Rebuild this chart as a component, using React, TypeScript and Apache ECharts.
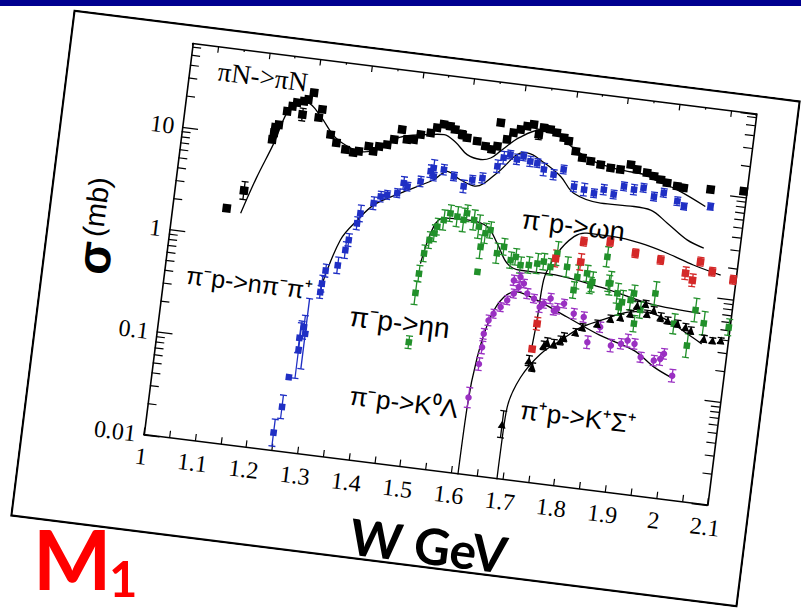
import React, { useEffect, useRef } from "react";
import * as echarts from "echarts";

// ---------------- data (W in GeV, sigma in mb, relative error) ----------------
const xTickLabels = ["1", "1.1", "1.2", "1.3", "1.4", "1.5", "1.6", "1.7", "1.8", "1.9", "2", "2.1"];
const yTickLabels: Record<string, string> = { "-2": "0.01", "-1": "0.1", "0": "1", "1": "10" };
const Y_MIN = 0.01;
const Y_MAX = 65;

// pi N -> pi N (black squares)
const piNData = [
  [1.105, 1.87, 0], [1.134, 2.9, 0.22], [1.176, 9.7, 0], [1.178, 11.3, 0], [1.179, 12.8, 0],
  [1.185, 13.7, 0], [1.198, 18.9, 0], [1.207, 21.4, 0], [1.215, 23.5, 0], [1.228, 24.7, 0],
  [1.228, 18.3, 0.15], [1.236, 26.0, 0], [1.245, 30.7, 0], [1.26, 17.9, 0], [1.265, 21.7, 0],
  [1.287, 12.7, 0], [1.3, 10.8, 0], [1.319, 9.5, 0], [1.335, 9.1, 0], [1.345, 9.5, 0],
  [1.363, 10.9, 0], [1.373, 9.9, 0], [1.383, 11.2, 0], [1.398, 11.9, 0], [1.41, 13.6, 0],
  [1.423, 17.3, 0], [1.435, 14.1, 0], [1.448, 14.3, 0], [1.46, 16.3, 0], [1.479, 17.4, 0],
  [1.49, 19.9, 0], [1.502, 21.8, 0], [1.515, 21.3, 0], [1.525, 20.1, 0], [1.54, 18.3, 0.1],
  [1.55, 17.3, 0], [1.57, 16.5, 0], [1.587, 15.1, 0], [1.6, 14.3, 0], [1.61, 15.6, 0],
  [1.611, 26.5, 0], [1.627, 18.6, 0], [1.638, 22.0, 0], [1.651, 24.1, 0], [1.663, 26.4, 0],
  [1.675, 27.9, 0], [1.687, 22.7, 0.12], [1.695, 26.7, 0], [1.708, 26.2, 0], [1.721, 24.8, 0],
  [1.736, 22.6, 0], [1.746, 21.3, 0], [1.762, 17.3, 0], [1.776, 15.3, 0], [1.793, 14.5, 0],
  [1.813, 13.8, 0], [1.833, 13.2, 0], [1.852, 13.1, 0], [1.871, 15.0, 0], [1.884, 13.7, 0],
  [1.904, 13.1, 0], [1.918, 12.4, 0], [1.932, 11.7, 0], [1.945, 11.1, 0], [1.965, 10.6, 0],
  [1.978, 10.4, 0], [2.03, 10.8, 0], [2.094, 11.4, 0],
];
const piNCurve = [
  [1.133, 1.74], [1.155, 4.0], [1.18, 9.0], [1.198, 18.3], [1.215, 22.6], [1.235, 24.1],
  [1.263, 18.6], [1.294, 12.4], [1.322, 10.3], [1.35, 9.5], [1.38, 10.5], [1.42, 14.5],
  [1.47, 16.5], [1.505, 17.4], [1.53, 15.0], [1.554, 11.9], [1.581, 11.1], [1.6, 11.8],
  [1.617, 14.1], [1.65, 20.0], [1.69, 25.0], [1.72, 24.0], [1.76, 18.0], [1.8, 14.5],
  [1.85, 13.0], [1.9, 12.5], [1.92, 11.5], [1.97, 9.6], [2.024, 7.3],
];

// pi- p -> n pi- pi+ (blue squares)
const nPiPiData = [
  [1.249, 0.0149, 0.35], [1.259, 0.027, 0.3], [1.265, 0.053, 0], [1.277, 0.1, 0.9], [1.276, 0.13, 0.4],
  [1.286, 0.145, 1.2], [1.282, 0.167, 0.3], [1.305, 0.38, 0.15], [1.306, 0.46, 0.2], [1.31, 0.62, 0.15],
  [1.332, 0.72, 0.2], [1.343, 1.03, 0.2], [1.347, 1.3, 0.15], [1.359, 1.92, 0.15], [1.363, 2.42, 0.2],
  [1.386, 3.14, 0.15], [1.398, 3.71, 0.12], [1.41, 3.92, 0.1], [1.429, 4.19, 0.1], [1.439, 5.33, 0.15],
  [1.447, 4.99, 0.1], [1.471, 5.78, 0.12], [1.488, 7.43, 0.15], [1.493, 8.08, 0.2], [1.495, 6.71, 0.1],
  [1.513, 8.0, 0.12], [1.534, 7.09, 0.1], [1.555, 5.84, 0.15], [1.57, 6.93, 0.1], [1.589, 7.4, 0.12],
  [1.615, 10.0, 0.15], [1.625, 12.3, 0.15], [1.637, 13.4, 0.1], [1.651, 12.3, 0.12], [1.663, 13.4, 0.1],
  [1.677, 12.2, 0.12], [1.691, 12.0, 0.1], [1.705, 10.6, 0.15], [1.725, 9.7, 0.12], [1.743, 11.2, 0.1],
  [1.767, 7.9, 0.12], [1.787, 7.6, 0.15], [1.807, 7.2, 0.1], [1.825, 8.0, 0.12], [1.845, 7.4, 0.1],
  [1.863, 9.1, 0.1], [1.883, 8.7, 0.12], [1.901, 9.3, 0.1], [1.923, 7.9, 0.1], [1.941, 8.8, 0.1],
  [1.969, 7.6, 0.1], [1.983, 6.9, 0.08], [2.034, 7.4, 0.08],
];
const nPiPiCurve = [
  [1.305, 0.42], [1.331, 1.27], [1.36, 2.1], [1.387, 3.03], [1.435, 4.23], [1.496, 6.23],
  [1.52, 7.78], [1.547, 6.71], [1.576, 6.06], [1.616, 8.63], [1.65, 13.7], [1.669, 14.6],
  [1.704, 12.3], [1.739, 9.5], [1.768, 6.8], [1.822, 5.9], [1.887, 6.0], [1.92, 5.8],
  [1.955, 4.55], [1.997, 3.32], [2.031, 2.9],
];

// pi- p -> eta n (green squares)
const etaData = [
  [1.487, 0.16, 0.15], [1.488, 0.486, 0.3], [1.49, 0.751, 0.2], [1.495, 1.19, 0.2], [1.502, 1.62, 0.2],
  [1.51, 1.91, 0.2], [1.514, 2.23, 0.2], [1.525, 2.63, 0.25], [1.536, 3.11, 0.2], [1.55, 2.94, 0.25],
  [1.563, 2.78, 0.3], [1.568, 3.26, 0.2], [1.583, 2.86, 0.25], [1.594, 2.5, 0.3], [1.602, 1.61, 0.3],
  [1.608, 2.2, 0.25], [1.602, 0.916, 0], [1.617, 2.4, 0.2], [1.635, 1.46, 0.25], [1.647, 1.72, 0.2],
  [1.663, 1.3, 0.2], [1.672, 1.42, 0.2], [1.683, 1.2, 0.2], [1.699, 1.23, 0.2], [1.715, 1.3, 0.25],
  [1.727, 1.38, 0.2], [1.741, 1.25, 0.2], [1.751, 1.72, 0.3], [1.773, 1.31, 0.25], [1.791, 0.8, 0.2],
  [1.795, 1.08, 0.3], [1.813, 1.2, 0.2], [1.822, 0.93, 0.2], [1.825, 1.01, 0.25], [1.848, 1.83, 0.25],
  [1.857, 1.02, 0.2], [1.86, 1.03, 0.3], [1.876, 0.84, 0.25], [1.882, 0.62, 0.2], [1.887, 0.7, 0.3],
  [1.903, 0.75, 0.25], [1.908, 0.88, 0.2], [1.915, 0.45, 0.2], [1.924, 0.62, 0.2], [1.949, 0.93, 0.3],
  [1.992, 0.5, 0.25], [2.022, 0.32, 0.3], [2.03, 0.72, 0.3], [2.049, 0.55, 0.3], [2.098, 0.54, 0.2],
];
const etaCurve = [
  [1.4905, 0.94], [1.507, 2.21], [1.525, 2.74], [1.57, 2.81], [1.61, 2.56], [1.633, 1.82],
  [1.657, 1.2], [1.684, 1.07], [1.736, 1.07], [1.842, 0.92], [1.942, 0.73], [2.04, 0.68],
];

// pi- p -> omega n (red squares)
const omegaData = [
  [1.7255, 0.194, 0], [1.729, 0.344, 0.15], [1.749, 1.53, 0.2], [1.798, 1.52, 0.2], [1.799, 2.4, 0.1],
  [1.85, 2.58, 0.1], [1.901, 2.14, 0.1], [1.951, 1.98, 0.1], [2.002, 1.58, 0.15], [2.017, 1.38, 0.15],
  [2.028, 2.13, 0.1], [2.053, 1.76, 0.1], [2.095, 1.56, 0.1],
];
const omegaCurve = [
  [1.7245, 0.2], [1.728, 0.37], [1.731, 0.92], [1.751, 1.72], [1.779, 2.61], [1.803, 2.92],
  [1.855, 2.91], [1.908, 2.71], [1.962, 2.34], [2.015, 1.94], [2.07, 1.67],
];

// pi- p -> K0 Lambda (purple circles)
const k0LambdaData = [
  [1.615, 0.0556, 0.25], [1.627, 0.12, 0.15], [1.629, 0.175, 0.15], [1.629, 0.237, 0.12], [1.635, 0.323, 0.12],
  [1.643, 0.38, 0.1], [1.655, 0.449, 0.1], [1.666, 0.531, 0.1], [1.677, 0.627, 0.1], [1.674, 0.84, 0.12],
  [1.685, 0.736, 0.1], [1.686, 0.92, 0.1], [1.694, 0.806, 0.1], [1.703, 0.651, 0.12], [1.717, 0.593, 0.1],
  [1.73, 0.5, 0.12], [1.737, 0.546, 0.1], [1.749, 0.622, 0.12], [1.758, 0.48, 0.1], [1.764, 0.507, 0.12],
  [1.776, 0.577, 0.1], [1.797, 0.475, 0.12], [1.817, 0.453, 0.12], [1.83, 0.262, 0.15], [1.851, 0.38, 0.12],
  [1.876, 0.26, 0.15], [1.895, 0.278, 0.12], [1.907, 0.304, 0.15], [1.921, 0.288, 0.12], [1.936, 0.218, 0.12],
  [1.962, 0.21, 0.12], [1.974, 0.222, 0.15], [1.98, 0.251, 0.12], [2.001, 0.158, 0.15],
];
const k0LambdaCurve = [
  [1.613, 0.005], [1.6146, 0.0443], [1.622, 0.138], [1.638, 0.35], [1.659, 0.566], [1.683, 0.656],
  [1.717, 0.593], [1.785, 0.433], [1.853, 0.316], [1.922, 0.248], [1.965, 0.181], [1.999, 0.152],
];

// pi+ p -> K+ Sigma+ (black triangles)
const kSigmaData = [
  [1.686, 0.0338, 0.35], [1.722, 0.1485, 0.12], [1.73, 0.13, 0.1], [1.747, 0.216, 0.1], [1.753, 0.235, 0.1],
  [1.766, 0.231, 0.1], [1.778, 0.253, 0.1], [1.784, 0.275, 0.1], [1.805, 0.317, 0.08], [1.817, 0.361, 0.08],
  [1.845, 0.406, 0.08], [1.869, 0.471, 0.08], [1.888, 0.5, 0.08], [1.906, 0.556, 0.08], [1.917, 0.68, 0.1],
  [1.933, 0.72, 0.08], [1.938, 0.58, 0.08], [1.95, 0.64, 0.08], [1.965, 0.56, 0.1], [1.979, 0.53, 0.08],
  [1.999, 0.507, 0.08], [2.015, 0.481, 0.08], [2.026, 0.453, 0.08], [2.053, 0.391, 0.08], [2.07, 0.386, 0.06],
  [2.086, 0.395, 0.06],
];
const kSigmaCurve = [
  [1.689, 0.005], [1.6895, 0.025], [1.6915, 0.0495], [1.71, 0.1], [1.743, 0.178], [1.778, 0.253],
  [1.815, 0.36], [1.85, 0.44], [1.901, 0.571], [1.939, 0.6], [1.979, 0.53], [2.02, 0.417], [2.05, 0.347],
];

// ---------------- styling / layout ----------------
const BLUE = "#1f2fc4";
const GREEN = "#21902a";
const RED = "#d42828";
const PURPLE = "#9a30c2";
const SERIF = '"Liberation Serif", "Times New Roman", serif';
const SANS = '"Liberation Sans", Arial, sans-serif';
const BOLD_SANS = 'Lato, "Open Sans", sans-serif';

const FRAME_W = 733;
const FRAME_H = 511;
const FRAME_CX = 405;
const FRAME_CY = 308;
const FRAME_ROT = 7.13;

function errSeries(data: number[][], color: string) {
  return {
    type: "custom",
    xAxisIndex: 0,
    yAxisIndex: 0,
    silent: true,
    z: 3,
    data: data.filter((d) => d[2] > 0),
    renderItem: (_p: any, api: any) => {
      const x = api.value(0);
      const y = api.value(1);
      const e = api.value(2);
      const hi = api.coord([x, y * (1 + e)]);
      const lo = api.coord([x, y / (1 + e)]);
      const c = 3.5;
      const st = { stroke: color, lineWidth: 1.3 };
      return {
        type: "group",
        children: [
          { type: "line", shape: { x1: hi[0], y1: hi[1], x2: lo[0], y2: lo[1] }, style: st },
          { type: "line", shape: { x1: hi[0] - c, y1: hi[1], x2: hi[0] + c, y2: hi[1] }, style: st },
          { type: "line", shape: { x1: lo[0] - c, y1: lo[1], x2: lo[0] + c, y2: lo[1] }, style: st },
        ],
      };
    },
  };
}

function curveSeries(data: number[][]) {
  return {
    type: "line",
    data,
    smooth: 0.35,
    symbol: "none",
    z: 2,
    silent: true,
    lineStyle: { color: "#000", width: 1.3 },
  };
}

function pointSeries(data: number[][], color: string, symbol: string, size: number) {
  return {
    type: "scatter",
    data: data.map((d) => [d[0], d[1]]),
    symbol,
    symbolSize: size,
    z: 4,
    itemStyle: { color, opacity: 1 },
  };
}

const yMinorTicks: number[][] = [];
for (const dec of [0.01, 0.1, 1, 10]) {
  for (let k = 2; k <= 9; k++) {
    const v = dec * k;
    if (v < Y_MAX) yMinorTicks.push([1, v]);
  }
}

function yLabel(v: number) {
  const l = Math.log10(v);
  const r = Math.round(l);
  if (Math.abs(l - r) > 1e-6) return "";
  return yTickLabels[String(r)] ?? "";
}

function xLabel(v: number) {
  return xTickLabels[Math.round((v - 1) * 10)] ?? "";
}

const axisLineStyle = { color: "#000", width: 1.6 };

function buildFrameOption(): any {
  const txt = (x: number, baseline: number, text: string, size: number, family: string) => ({
    type: "text",
    x,
    y: baseline - 0.35 * size,
    z: 10,
    style: { text, font: `${size}px ${family}`, fill: "#000", align: "left", verticalAlign: "middle" },
  });
  return {
    animation: false,
    backgroundColor: "#ffffff",
    grid: { left: 122.4, top: 19, width: 568.2, height: 394 },
    xAxis: [
      {
        type: "value",
        min: 1,
        max: 2.1,
        interval: 0.1,
        position: "bottom",
        axisLine: { onZero: false, lineStyle: axisLineStyle },
        axisTick: { inside: true, length: 7, lineStyle: { color: "#000", width: 1.2 } },
        minorTick: { show: true, splitNumber: 2, length: 7, lineStyle: { color: "#000", width: 1.2 } },
        splitLine: { show: false },
        axisLabel: { margin: 10, color: "#000", fontSize: 24, fontFamily: SERIF, formatter: xLabel },
      },
      {
        type: "value",
        min: 1,
        max: 2.1,
        interval: 0.1,
        position: "top",
        axisLine: { onZero: false, lineStyle: axisLineStyle },
        axisTick: { inside: true, length: 2, lineStyle: { color: "#000", width: 1.2 } },
        minorTick: { show: true, splitNumber: 2, length: 6, lineStyle: { color: "#000", width: 1.2 } },
        splitLine: { show: false },
        axisLabel: { show: false },
      },
    ],
    yAxis: [
      {
        type: "log",
        logBase: 10,
        min: Y_MIN,
        max: Y_MAX,
        position: "left",
        axisLine: { lineStyle: axisLineStyle },
        axisTick: { inside: true, length: 16, lineStyle: { color: "#000", width: 1.3 } },
        minorTick: { show: false },
        splitLine: { show: false },
        axisLabel: { margin: 8, color: "#000", fontSize: 24, fontFamily: SERIF, formatter: yLabel, showMaxLabel: false },
      },
      {
        type: "log",
        logBase: 10,
        min: Y_MIN,
        max: Y_MAX,
        position: "right",
        axisLine: { lineStyle: axisLineStyle },
        axisTick: { inside: true, length: 16, lineStyle: { color: "#000", width: 1.3 } },
        minorTick: { show: false },
        splitLine: { show: false },
        axisLabel: { show: false },
      },
    ],
    series: [
      {
        type: "custom",
        xAxisIndex: 0,
        yAxisIndex: 0,
        silent: true,
        data: yMinorTicks,
        renderItem: (_p: any, api: any) => {
          const v = api.value(1);
          const l = api.coord([1, v]);
          const r = api.coord([2.1, v]);
          const st = { stroke: "#000", lineWidth: 1.2 };
          return {
            type: "group",
            children: [
              { type: "line", shape: { x1: l[0], y1: l[1], x2: l[0] + 9, y2: l[1] }, style: st },
              { type: "line", shape: { x1: r[0], y1: r[1], x2: r[0] - 9, y2: r[1] }, style: st },
            ],
          };
        },
      },
      curveSeries(piNCurve),
      curveSeries(nPiPiCurve),
      curveSeries(etaCurve),
      curveSeries(omegaCurve),
      curveSeries(k0LambdaCurve),
      curveSeries(kSigmaCurve),
      errSeries(piNData, "#000"),
      errSeries(nPiPiData, BLUE),
      errSeries(etaData, GREEN),
      errSeries(omegaData, RED),
      errSeries(k0LambdaData, PURPLE),
      errSeries(kSigmaData, "#000"),
      pointSeries(piNData, "#000", "rect", 8.5),
      pointSeries(nPiPiData, BLUE, "rect", 6.5),
      pointSeries(etaData, GREEN, "rect", 6.5),
      pointSeries(omegaData, RED, "rect", 7.5),
      pointSeries(k0LambdaData, PURPLE, "circle", 6.5),
      pointSeries(kSigmaData, "#000", "triangle", 8),
    ],
    graphic: [
      {
        type: "rect",
        z: 20,
        shape: { x: 1, y: 1, width: FRAME_W - 2, height: FRAME_H - 2 },
        style: { fill: "none", stroke: "#000", lineWidth: 2.4 },
      },
      txt(151, 53, "πN->πN", 27, SERIF),
      txt(145, 258, "π⁻p->nπ⁻π⁺", 25, SANS),
      txt(471, 162, "π⁻p->ωn", 27, SANS),
      txt(312, 280, "π⁻p->ηn", 28, SANS),
      txt(322, 358, "π⁻p->K⁰Λ", 26, SANS),
      txt(493, 351, "π⁺p->K⁺Σ⁺", 26, SANS),
      {
        type: "text",
        x: 51,
        y: 244,
        rotation: Math.PI / 2,
        z: 10,
        style: { text: "σ", font: `bold 48px ${SANS}`, fill: "#000", align: "center", verticalAlign: "middle" },
      },
      {
        type: "text",
        x: 47,
        y: 193,
        rotation: Math.PI / 2,
        z: 10,
        style: { text: "(mb)", font: `29px ${SANS}`, fill: "#000", align: "center", verticalAlign: "middle" },
      },
      {
        type: "text",
        x: 340,
        y: 507 - 0.39 * 50,
        z: 10,
        style: { text: "W GeV", font: `bold 50px ${BOLD_SANS}`, fill: "#000", align: "left", verticalAlign: "middle", lineHeight: 44 },
      },
    ],
  };
}

function buildPageOption(): any {
  return {
    animation: false,
    backgroundColor: "transparent",
    graphic: [
      { type: "rect", shape: { x: 0, y: 0, width: 801, height: 6 }, style: { fill: "#000090" } },
      {
        type: "text",
        x: 33,
        y: 590 - 0.39 * 83,
        style: { text: "M", font: `bold 83px ${BOLD_SANS}`, fill: "#ff0000", align: "left", verticalAlign: "middle", lineHeight: 64 },
      },
      {
        type: "text",
        x: 109,
        y: 597 - 0.39 * 49,
        style: { text: "1", font: `bold 49px ${BOLD_SANS}`, fill: "#ff0000", align: "left", verticalAlign: "middle", lineHeight: 38 },
      },
    ],
  };
}

export default function App() {
  const pageRef = useRef<HTMLDivElement>(null);
  const frameRef = useRef<HTMLDivElement>(null);

  useEffect(() => {
    if (!pageRef.current || !frameRef.current) return;
    const chart = echarts.init(frameRef.current, undefined, { renderer: "svg" });
    chart.setOption(buildFrameOption());
    const page = echarts.init(pageRef.current, undefined, { renderer: "svg" });
    page.setOption(buildPageOption());
    return () => {
      chart.dispose();
      page.dispose();
    };
  }, []);

  return (
    <div style={{ position: "fixed", left: 0, top: 0, width: 801, height: 608, overflow: "hidden", background: "#fff" }}>
      <div
        ref={frameRef}
        style={{
          position: "absolute",
          left: FRAME_CX - FRAME_W / 2,
          top: FRAME_CY - FRAME_H / 2,
          width: FRAME_W,
          height: FRAME_H,
          transform: `rotate(${FRAME_ROT}deg)`,
          transformOrigin: "50% 50%",
        }}
      />
      <div
        ref={pageRef}
        style={{ position: "absolute", left: 0, top: 0, width: 801, height: 608, pointerEvents: "none" }}
      />
    </div>
  );
}
